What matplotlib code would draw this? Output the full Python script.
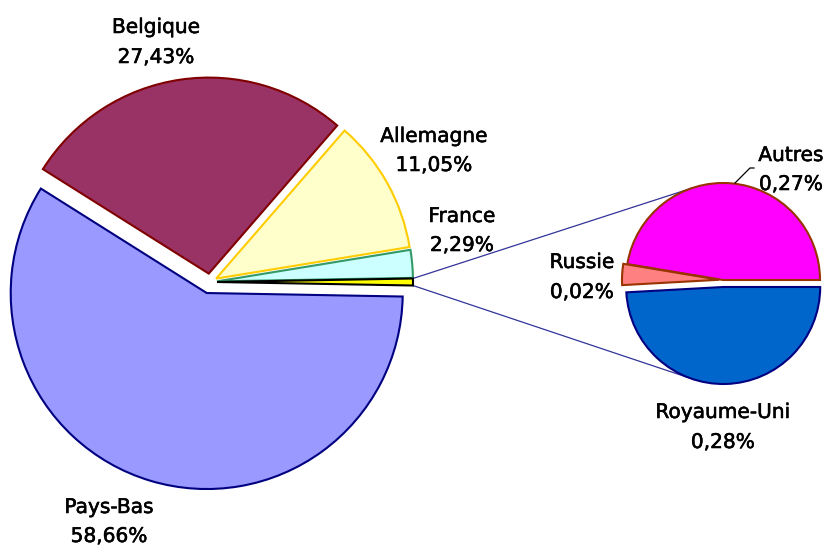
import numpy as np
import matplotlib
matplotlib.use("Agg")
import matplotlib.pyplot as plt

# ---- data ----
main_labels = ["Pays-Bas", "Belgique", "Allemagne", "France"]
main_values = [58.66, 27.43, 11.05, 2.29]
sub_labels = ["Autres", "Russie", "Royaume-Uni"]
sub_values = [0.27, 0.02, 0.28]

# ---- styles ----
main_faces = ["#9999FF", "#993366", "#FFFFCC", "#CCFFFF", "#FFFF00"]
main_edges = ["#000080", "#800000", "#FFCC00", "#339966", "#000000"]
sub_faces = ["#FF00FF", "#FF8080", "#0066CC"]
sub_edges = ["#993300", "#993300", "#000080"]

W, H = 827, 547
fig = plt.figure(figsize=(W / 100, H / 100), dpi=100)
ax = fig.add_axes([0, 0, 1, 1])

def py(y):
    return H - y

# main pie
mc = (210, py(282))
mr = 196
m_vals = main_values + [sum(sub_values)]
m_explode = [11.5, 8.5, 7, 7, 7]
other_ang = sum(sub_values) / sum(m_vals) * 360
wedges, _ = ax.pie(m_vals, colors=main_faces, explode=m_explode, radius=mr, center=mc,
                   startangle=-other_ang / 2, counterclock=False,
                   wedgeprops=dict(linewidth=1.5, joinstyle="miter"), frame=True)
for w, ec in zip(wedges, main_edges):
    w.set_edgecolor(ec)

# secondary pie
sc = (723, py(280))
sr = 97
s_explode = [0, 4, 7]
swedges, _ = ax.pie(sub_values, colors=sub_faces, explode=s_explode, radius=sr, center=sc,
                    startangle=0, counterclock=True,
                    wedgeprops=dict(linewidth=1.5, joinstyle="miter"), frame=True)
for w, ec in zip(swedges, sub_edges):
    w.set_edgecolor(ec)

# connector lines (tangents from the "other" slice corners to the secondary pie)
ow = wedges[-1]
ocx, ocy = ow.center
for sign, sw in ((1, swedges[0]), (-1, swedges[2])):
    a = np.deg2rad(sign * other_ang / 2)
    p = np.array([ocx + mr * np.cos(a), ocy + mr * np.sin(a)])
    c = np.array(sw.center)
    v = p - c
    d = np.hypot(*v)
    base = np.arctan2(v[1], v[0])
    off = np.arccos(sr / d)
    t = base - sign * off
    q = c + sr * np.array([np.cos(t), np.sin(t)])
    ax.plot([p[0], q[0]], [p[1], q[1]], color="#333399", lw=0.9, zorder=0.5)

# Autres leader line
ax.plot([735, 750, 754], [py(183), py(168), py(168)], color="black", lw=0.9)

# labels
label_pos = {
    "Pays-Bas": (109, 513, 542),
    "Belgique": (156, 33, 63),
    "Allemagne": (434, 142, 171),
    "France": (462, 222, 251),
    "Autres": (791, 161, 190),
    "Russie": (582, 268, 298),
    "Royaume-Uni": (723, 418, 448),
}
fs = 14.5
for name, val in zip(main_labels + sub_labels, main_values + sub_values):
    x, y1, y2 = label_pos[name]
    pct = f"{val:.2f}".replace(".", ",") + "%"
    for yy, s in ((y1, name), (y2, pct)):
        t = ax.text(x, py(yy), s, ha="center", va="baseline", fontsize=fs,
                    family="DejaVu Sans", color="black")
        # slight stroke to mimic the medium weight of the original face
        import matplotlib.patheffects as pe
        t.set_path_effects([pe.withStroke(linewidth=0.4, foreground="black")])

ax.set_xlim(0, W)
ax.set_ylim(0, H)
ax.set_aspect("equal")
ax.axis("off")
fig.savefig("out.png", dpi=100, facecolor="white")
